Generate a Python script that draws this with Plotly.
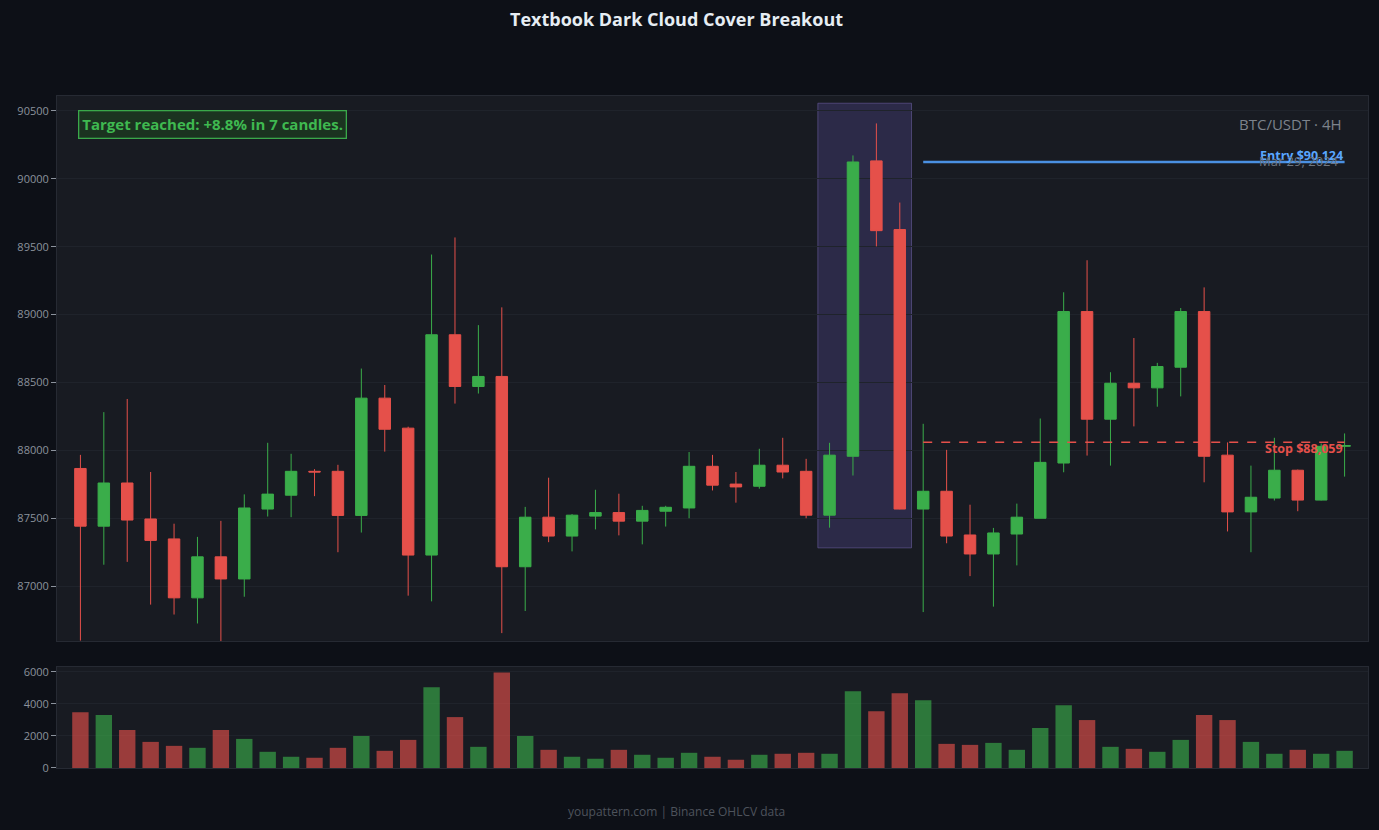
import plotly.graph_objects as go

# ---- data ----
opens = [87866, 87441, 87759, 87494, 87347, 86913, 87215, 87052, 87567, 87669,
         87845, 87845, 87520, 88384, 88163, 87228, 88851, 88470, 88544, 87142,
         87507, 87368, 87515, 87541, 87478, 87551, 87575, 87882, 87751, 87735,
         87890, 87845, 87522, 87956, 90132, 89626, 87567, 87698, 87376, 87236,
         87383, 87499, 87906, 89022, 88229, 88494, 88460, 88612, 89022, 87964,
         87546, 87648, 87853, 87633, 88029]
highs = [87966, 88281, 88378, 87840, 87459, 87362, 87480, 87675, 88055, 87974,
         87861, 87893, 88602, 88481, 88174, 89442, 89568, 88922, 89053, 87583,
         87798, 87530, 87709, 87680, 87591, 87591, 87987, 87966, 87840, 88011,
         88092, 87937, 88055, 90172, 90408, 89825, 88195, 88003, 87599, 87428,
         87607, 88234, 89164, 89400, 88575, 88827, 88644, 89048, 89200, 88058,
         87887, 88092, 87858, 88050, 88124]
lows = [86598, 87157, 87178, 86863, 86790, 86724, 86593, 86921, 87512, 87507,
        87662, 87249, 87394, 87990, 86929, 86887, 88344, 88418, 86653, 86816,
        87323, 87255, 87417, 87373, 87307, 87438, 87499, 87704, 87614, 87717,
        87793, 87499, 87430, 87814, 89502, 87565, 86808, 87315, 87073, 86848,
        87152, 87499, 87838, 87961, 87887, 88176, 88321, 88397, 87764, 87402,
        87249, 87630, 87551, 87630, 87806]
closes = [87441, 87759, 87486, 87336, 86913, 87215, 87052, 87575, 87677, 87845,
          87840, 87520, 88384, 88155, 87228, 88851, 88470, 88544, 87142, 87507,
          87368, 87522, 87541, 87478, 87557, 87580, 87882, 87743, 87730, 87890,
          87840, 87522, 87964, 90124, 89618, 87567, 87698, 87368, 87236, 87391,
          87507, 87911, 89022, 88229, 88494, 88460, 88617, 89022, 87956, 87546,
          87654, 87853, 87633, 88029, 88035]
volumes = [3485, 3299, 2371, 1629, 1381, 1258, 2371, 1815, 1010, 701,
           639, 1258, 2000, 1072, 1753, 5031, 3175, 1320, 5959, 2000,
           1134, 701, 577, 1134, 825, 639, 948, 701, 515, 825,
           887, 948, 887, 4784, 3547, 4660, 4227, 1505, 1443, 1567,
           1134, 2495, 3918, 2990, 1320, 1196, 1010, 1753, 3299, 2990,
           1629, 887, 1134, 887, 1072]

entry_price = 90124
stop_price = 88059
pattern_start, pattern_end = 32, 35
trade_start = 36
price_range = [86595, 90610]
vol_range = [0, 6300]
vol_ticks = [0, 2000, 4000, 6000]
price_ticks = [87000, 87500, 88000, 88500, 89000, 89500, 90000, 90500]

title_text = "Textbook Dark Cloud Cover Breakout"
footer_text = "youpattern.com | Binance OHLCV data"
target_text = "Target reached: +8.8% in 7 candles."
symbol_text = "BTC/USDT · 4H"
date_text = "Mar 29, 2024"

# ---- style ----
GREEN = "#3aad4a"
RED = "#e5504a"
PAPER = "#0d1017"
PLOT = "#181b22"
GRID = "#1f232b"
AXIS_TXT = "#8b929c"
FONT = "Open Sans"

x = list(range(len(opens)))
vol_colors = ["rgba(58,173,74,0.64)" if c >= o else "rgba(229,80,74,0.64)"
              for o, c in zip(opens, closes)]

fig = go.Figure()
fig.add_trace(go.Candlestick(
    x=x, open=opens, high=highs, low=lows, close=closes,
    increasing=dict(line=dict(color=GREEN, width=1), fillcolor=GREEN),
    decreasing=dict(line=dict(color=RED, width=1), fillcolor=RED),
    whiskerwidth=0, showlegend=False, xaxis="x", yaxis="y"))
fig.add_trace(go.Bar(x=x, y=volumes, marker=dict(color=vol_colors, line=dict(width=0)),
                     showlegend=False, xaxis="x2", yaxis="y2"))

# highlight of the pattern
seg_hi = max(highs[pattern_start:pattern_end + 1])
seg_lo = min(lows[pattern_start:pattern_end + 1])
pad = (seg_hi - seg_lo) * 0.05
fig.add_shape(type="rect", xref="x", yref="y",
              x0=pattern_start - 0.5, x1=pattern_end + 0.5,
              y0=seg_lo - pad, y1=seg_hi + pad,
              fillcolor="rgba(120,95,210,0.22)",
              line=dict(color="rgba(120,105,180,0.5)", width=1), layer="below")

# entry / stop lines
fig.add_shape(type="line", xref="x", yref="y", x0=trade_start, x1=x[-1],
              y0=entry_price, y1=entry_price, line=dict(color="#4a90e2", width=2.4))
fig.add_shape(type="line", xref="x", yref="y", x0=trade_start, x1=x[-1],
              y0=stop_price, y1=stop_price, line=dict(color=RED, width=1.6, dash="dash"))

fig.add_annotation(x=x[-1], y=entry_price, xref="x", yref="y", text=f"<b>Entry ${entry_price:,}</b>",
                   showarrow=False, xanchor="right", yanchor="middle", yshift=6,
                   font=dict(family=FONT, size=12.5, color="#58a6ff"))
fig.add_annotation(x=0.9794, y=0.881, xref="x domain", yref="y domain", text=date_text,
                   showarrow=False, xanchor="right", yanchor="middle",
                   font=dict(family=FONT, size=13, color="#6e7681"))
fig.add_annotation(x=x[-1], y=stop_price, xref="x", yref="y", text=f"<b>Stop ${stop_price:,}</b>",
                   showarrow=False, xanchor="right", yanchor="middle", yshift=-6,
                   font=dict(family=FONT, size=12.5, color=RED))
fig.add_annotation(x=0.9817, y=0.949, xref="x domain", yref="y domain", text=symbol_text,
                   showarrow=False, xanchor="right", yanchor="middle",
                   font=dict(family=FONT, size=15, color="#7d838c"))
fig.add_annotation(x=0.016, y=0.948, xref="x domain", yref="y domain", text=f"<b>{target_text}</b>",
                   showarrow=False, xanchor="left", yanchor="middle",
                   font=dict(family=FONT, size=15, color="#3fb950"),
                   bgcolor="#1b3320", bordercolor="#3aa84a", borderwidth=1.3, borderpad=3)

axis_common = dict(zeroline=False, showline=True,
                   linecolor="#262a33", linewidth=1, mirror=True)

fig.update_layout(
    width=1379, height=830,
    paper_bgcolor=PAPER, plot_bgcolor=PLOT,
    margin=dict(l=57, r=11, t=96, b=62),
    title=dict(text=f"<b>{title_text}</b>", x=0.4906, xanchor="center", y=0.976, yanchor="middle",
               font=dict(family=FONT, size=18, color="#e6edf3")),
    font=dict(family=FONT, color=AXIS_TXT),
    showlegend=False,
    bargap=0.3,
    xaxis=dict(domain=[0, 1], anchor="y", range=[-1, len(x)], rangeslider=dict(visible=False),
               showgrid=False, showticklabels=False, ticks="", **axis_common),
    yaxis=dict(domain=[0.189, 1], anchor="x", range=price_range, tickvals=price_ticks,
               tickformat="d", showgrid=True, gridcolor=GRID,
               ticks="outside", ticklen=5, tickcolor=AXIS_TXT,
               tickfont=dict(family=FONT, size=11, color=AXIS_TXT), **axis_common),
    xaxis2=dict(domain=[0, 1], anchor="y2", range=[-1, len(x)], matches="x",
                showgrid=False, showticklabels=False, ticks="", **axis_common),
    yaxis2=dict(domain=[0, 0.1503], anchor="x2", range=vol_range, tickvals=vol_ticks,
                tickformat="d", showgrid=True, gridcolor=GRID,
                ticks="outside", ticklen=5, tickcolor=AXIS_TXT,
                tickfont=dict(family=FONT, size=11, color=AXIS_TXT), **axis_common),
)
fig.add_annotation(x=0.4725, y=-0.065, xref="paper", yref="paper", text=footer_text,
                   showarrow=False, xanchor="center", yanchor="middle",
                   font=dict(family=FONT, size=12, color="#4d535c"))

fig.write_html("out.html")
